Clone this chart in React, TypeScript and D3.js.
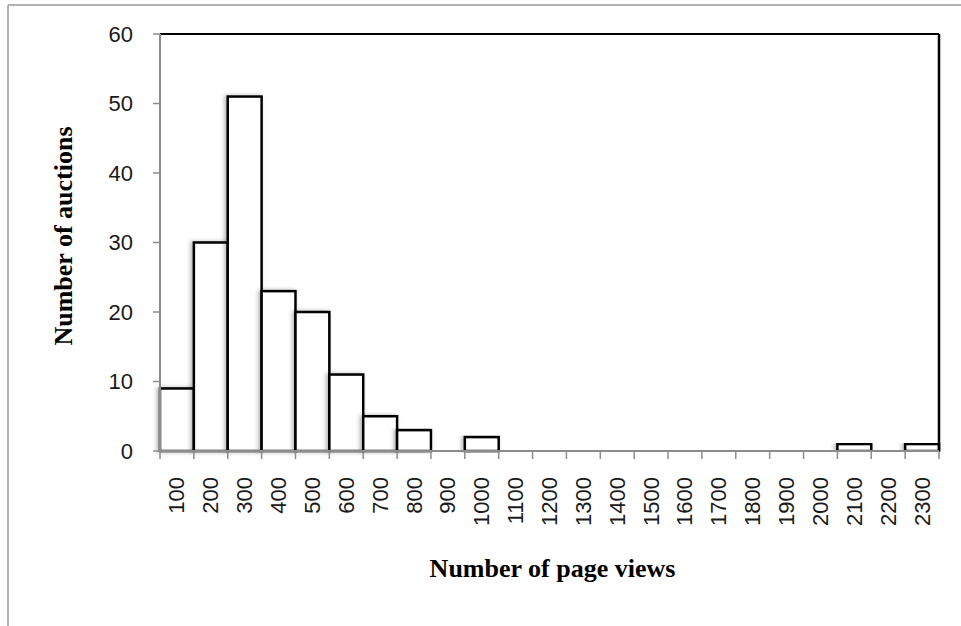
import React from "react";
import * as d3 from "d3";

const categories: string[] = [
  "100", "200", "300", "400", "500", "600", "700", "800", "900", "1000",
  "1100", "1200", "1300", "1400", "1500", "1600", "1700", "1800", "1900",
  "2000", "2100", "2200", "2300",
];
const counts: number[] = [9, 30, 51, 23, 20, 11, 5, 3, 0, 2, 0, 0, 0, 0, 0, 0, 0, 0, 0, 0, 1, 0, 1];
const yTicks: number[] = [0, 10, 20, 30, 40, 50, 60];
const xTitle = "Number of page views";
const yTitle = "Number of auctions";

const W = 961;
const H = 626;
const left = 160;
const right = 939;
const top = 34;
const bottom = 451;

export default function App() {
  const x = d3.scaleBand<string>().domain(categories).range([left, right]).paddingInner(0).paddingOuter(0);
  const y = d3.scaleLinear().domain([0, 60]).range([bottom, top]);
  const bw = x.bandwidth();
  const tickFont = "'Liberation Sans', Arial, sans-serif";
  const titleFont = "'Liberation Serif', 'Times New Roman', serif";
  const boundaries = categories.map((c) => x(c) as number).concat([right]);

  return (
    <svg width={W} height={H} style={{ position: "absolute", left: 0, top: 0, background: "#fff" }}>
      <defs>
        <filter id="shadow" x="-30%" y="-10%" width="160%" height="120%">
          <feDropShadow dx={-2} dy={0} stdDeviation={2.2} floodColor="#000" floodOpacity={0.3} />
        </filter>
      </defs>
      <rect x={0} y={0} width={W} height={H} fill="#fff" />
      {/* outer chart frame (cropped) */}
      <line x1={8} y1={5} x2={W} y2={5} stroke="#9a9a9a" strokeWidth={1.5} />
      <line x1={8} y1={5} x2={8} y2={H} stroke="#9a9a9a" strokeWidth={1.5} />

      {/* bars */}
      <g>
        {categories.map((c, i) =>
          counts[i] > 0 ? (
            <rect
              key={c}
              x={x(c) as number}
              y={y(counts[i])}
              width={bw}
              height={bottom - y(counts[i])}
              fill="#fff"
              stroke="#000"
              strokeWidth={2.5}
              filter="url(#shadow)"
            />
          ) : null
        )}
      </g>

      {/* plot frame top and right */}
      <line x1={left} y1={top} x2={right} y2={top} stroke="#000" strokeWidth={2} />
      <line x1={right} y1={top} x2={right} y2={bottom} stroke="#000" strokeWidth={2.5} />

      {/* y axis */}
      <line x1={left} y1={top} x2={left} y2={bottom} stroke="#8c8c8c" strokeWidth={2} />
      {yTicks.map((t) => (
        <g key={t}>
          <line x1={left - 7} y1={y(t)} x2={left} y2={y(t)} stroke="#8c8c8c" strokeWidth={1.5} />
          <text
            x={133}
            y={y(t)}
            textAnchor="end"
            dominantBaseline="central"
            fontFamily={tickFont}
            fontSize={22}
            fill="#1a1a1a"
          >
            {t}
          </text>
        </g>
      ))}

      {/* x axis */}
      <line x1={left} y1={bottom} x2={right} y2={bottom} stroke="#8c8c8c" strokeWidth={2} />
      {boundaries.map((bx, i) => (
        <line key={i} x1={bx} y1={bottom} x2={bx} y2={bottom + 8} stroke="#8c8c8c" strokeWidth={1.5} />
      ))}
      {categories.map((c) => {
        const cx = (x(c) as number) + bw / 2;
        const ty = 477;
        return (
          <text
            key={c}
            transform={`translate(${cx},${ty}) rotate(-90)`}
            textAnchor="end"
            dominantBaseline="central"
            fontFamily={tickFont}
            fontSize={22}
            fill="#1a1a1a"
          >
            {c}
          </text>
        );
      })}

      {/* titles */}
      <text
        x={(left + right) / 2 + 3}
        y={577}
        textAnchor="middle"
        fontFamily={titleFont}
        fontWeight="bold"
        fontSize={26}
        fill="#000"
      >
        {xTitle}
      </text>
      <text
        transform={`translate(72,${236}) rotate(-90)`}
        textAnchor="middle"
        fontFamily={titleFont}
        fontWeight="bold"
        fontSize={26}
        fill="#000"
      >
        {yTitle}
      </text>
    </svg>
  );
}
